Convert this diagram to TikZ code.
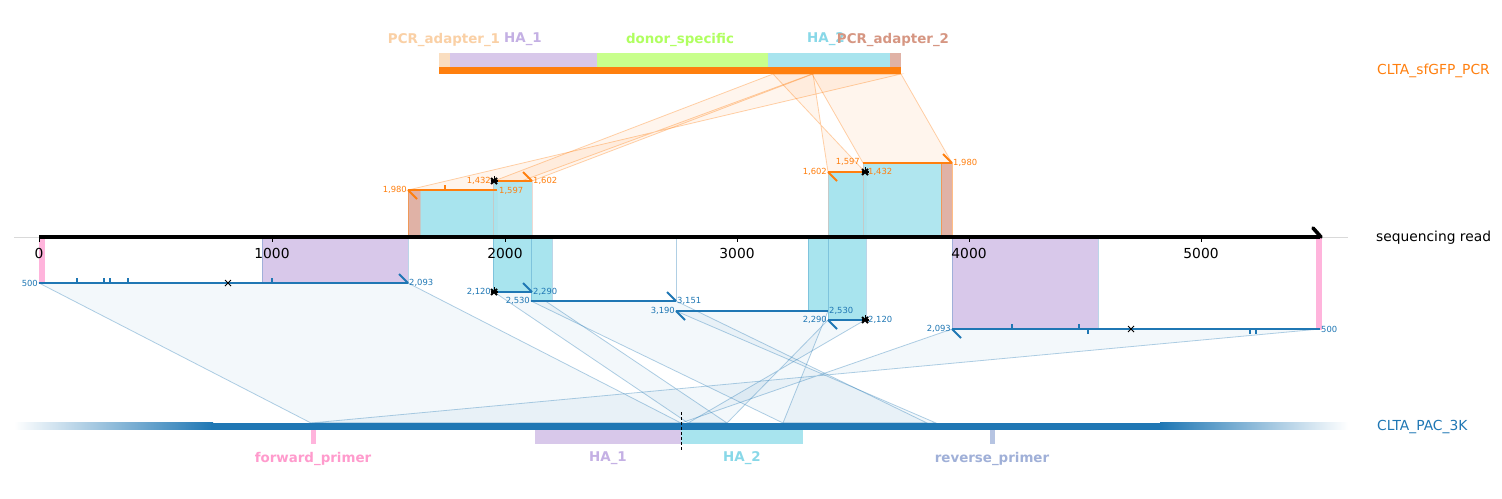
\documentclass[tikz,border=0pt]{standalone}
\usepackage{fontspec}
\setmainfont{DejaVu Sans}
\usetikzlibrary{calc}
\definecolor{cor}{RGB}{255,127,14}
\definecolor{cbl}{RGB}{31,119,180}
\definecolor{cha1}{RGB}{216,200,234}
\definecolor{cha2}{RGB}{168,228,238}
\definecolor{cdon}{RGB}{200,255,140}
\definecolor{cpa1}{RGB}{250,222,192}
\definecolor{cpa2}{RGB}{224,178,166}
\definecolor{cfp}{RGB}{255,180,220}
\definecolor{crp}{RGB}{182,196,226}
\definecolor{lpa1}{RGB}{250,208,165}
\definecolor{lha1}{RGB}{196,176,228}
\definecolor{ldon}{RGB}{176,255,96}
\definecolor{lha2}{RGB}{136,216,232}
\definecolor{lpa2}{RGB}{214,150,130}
\definecolor{lfp}{RGB}{255,155,205}
\definecolor{lrp}{RGB}{160,176,216}
\tikzset{
  flabel/.style={font=\fontsize{13.4}{15}\selectfont\bfseries, inner sep=0pt},
  tlabel/.style={font=\fontsize{13.8}{15}\selectfont, inner sep=0pt, anchor=west},
  axnum/.style={font=\fontsize{13.8}{15}\selectfont, inner sep=0pt},
  olab/.style={font=\fontsize{8.4}{9}\selectfont, text=cor, inner sep=1pt},
  blab/.style={font=\fontsize{8.4}{9}\selectfont, text=cbl, inner sep=1pt},
  oline/.style={draw=cor, line width=2.2pt},
  bline/.style={draw=cbl, line width=2pt},
  otick/.style={draw=cor, line width=1.8pt},
  btick/.style={draw=cbl, line width=1.8pt},
  opoly/.style={fill=cor, fill opacity=0.07, draw=cor, draw opacity=0.35, line width=0.8pt},
  bpoly/.style={fill=cbl, fill opacity=0.05, draw=cbl, draw opacity=0.35, line width=0.8pt},
  featrect/.style={draw opacity=0.5, line width=0.6pt},
  xmark/.style={draw=black, line width=0.9pt},
}
\newcommand{\starmark}[1]{%
  \draw[line width=1.8pt] ($#1+(-3,-3)$) -- ($#1+(3,3)$);
  \draw[line width=1.8pt] ($#1+(-3,3)$) -- ($#1+(3,-3)$);
  \draw[line width=1.2pt] ($#1+(-3.5,0)$) -- ($#1+(3.5,0)$);
  \draw[line width=1pt] #1 -- ($#1+(0,-5)$);}
\newcommand{\xmk}[1]{%
  \draw[xmark] ($#1+(-3,-3)$) -- ($#1+(3,3)$);
  \draw[xmark] ($#1+(-3,3)$) -- ($#1+(3,-3)$);}
\begin{document}
\begin{tikzpicture}[x=1pt,y=-1pt]
\useasboundingbox (0,0) rectangle (1502,498);
\fill[white] (0,0) rectangle (1502,498);

% ---------- coordinates: top reference (CLTA_sfGFP_PCR) ----------
\coordinate (t1432) at (773,74);
\coordinate (t1597) at (812,74);
\coordinate (t1602) at (813,74);
\coordinate (t1980) at (901,74);
% ---------- bottom reference (CLTA_PAC_3K) ----------
\coordinate (b500) at (311,423);
\coordinate (b2093) at (681,423);
\coordinate (b2120) at (688,423);
\coordinate (b2290) at (727,423);
\coordinate (b2530) at (783,423);
\coordinate (b3151) at (927,423);
\coordinate (b3190) at (936,423);
% ---------- alignment end points on the read ----------
\coordinate (a1s) at (408,190); \coordinate (a1e) at (497,190);
\coordinate (a2s) at (494,181); \coordinate (a2e) at (532,181);
\coordinate (a3s) at (828,172); \coordinate (a3e) at (865,172);
\coordinate (a4s) at (863,163); \coordinate (a4e) at (952,163);
\coordinate (c1s) at (39,283);  \coordinate (c1e) at (408,283);
\coordinate (c2s) at (494,292); \coordinate (c2e) at (532,292);
\coordinate (c3s) at (531,301); \coordinate (c3e) at (676,301);
\coordinate (c4s) at (676,311); \coordinate (c4e) at (828,311);
\coordinate (c5s) at (828,320); \coordinate (c5e) at (865,320);
\coordinate (c6s) at (952,329); \coordinate (c6e) at (1320,329);

% ---------- connecting ribbons ----------
\path[opoly] (a1s) -- (a1e) -- (t1597) -- (t1980) -- cycle;
\path[opoly] (a2s) -- (a2e) -- (t1602) -- (t1432) -- cycle;
\path[opoly] (a3s) -- (a3e) -- (t1432) -- (t1602) -- cycle;
\path[opoly] (a4s) -- (a4e) -- (t1980) -- (t1597) -- cycle;
\path[bpoly] (c1s) -- (c1e) -- (b2093) -- (b500) -- cycle;
\path[bpoly] (c2s) -- (c2e) -- (b2290) -- (b2120) -- cycle;
\path[bpoly] (c3s) -- (c3e) -- (b3151) -- (b2530) -- cycle;
\path[bpoly] (c4s) -- (c4e) -- (b2530) -- (b3190) -- cycle;
\path[bpoly] (c5s) -- (c5e) -- (b2120) -- (b2290) -- cycle;
\path[bpoly] (c6s) -- (c6e) -- (b500) -- (b2093) -- cycle;

% ---------- feature rectangles on the read ----------
\path[fill=cpa2, draw=cor, featrect] (408,190) rectangle (420,237);
\path[fill=cha2, draw=cpa2, featrect] (420,190) rectangle (497,237);
\path[fill=cha2, draw=cpa2, featrect, fill opacity=0.9] (493,181) rectangle (532,237);
\path[fill=cha2, draw=cpa2, featrect] (828,172) rectangle (866,237);
\path[fill=cha2, draw=cpa2, featrect, fill opacity=0.9] (863,163) rectangle (941,237);
\path[fill=cpa2, draw=cor, featrect] (941,163) rectangle (952,237);

\path[fill=cfp, draw=cfp] (39,237) rectangle (44,283);
\path[fill=cha1, draw=cbl, draw opacity=0.3, line width=0.6pt] (262,237) rectangle (408,283);
\path[fill=cha2, draw=cbl, featrect, draw opacity=0.3] (493,237) rectangle (532,292);
\path[fill=cha2, draw=cbl, featrect, draw opacity=0.3] (531,237) rectangle (552,301);
\draw[cbl, opacity=0.35, line width=0.8pt] (676,237) -- (676,301);
\path[fill=cha2, draw=cbl, featrect, draw opacity=0.3] (808,237) rectangle (828,311);
\path[fill=cha2, draw=cbl, featrect, draw opacity=0.3] (828,237) rectangle (866,320);
\path[fill=cha1, draw=cbl, draw opacity=0.3, line width=0.6pt] (952,237) rectangle (1098,329);
\path[fill=cfp, draw=cfp] (1316,237) rectangle (1321,329);

% ---------- read axis ----------
\draw[black!15, line width=0.6pt] (14,237) -- (1348,237);
\draw[black, line width=3.6pt] (39,237) -- (1320,237);
\draw[black, line width=3.6pt, line cap=round] (1313,228) -- (1321,237);
\foreach \x/\t in {39/0,272/1000,505/2000,737/3000,969/4000,1201/5000}{
  \draw[black, line width=0.8pt] (\x,237) -- (\x,242);
  \node[axnum] (ax\t) at (\x,253.5) {\t};
}
\node[tlabel, text=black] (readlbl) at (1376,237.5) {sequencing read};

% ---------- top reference ----------
\fill[cpa1] (439,53) rectangle (450,67);
\fill[cha1] (450,53) rectangle (597,67);
\fill[cdon] (597,53) rectangle (768,67);
\fill[cha2] (768,53) rectangle (890,67);
\fill[cpa2] (890,53) rectangle (901,67);
\fill[cor] (439,67) rectangle (901,74);
\node[flabel, text=lpa1] (tf1) at (444,39.5) {PCR\_adapter\_1};
\node[flabel, text=lha1] (tf2) at (523,39.5) {HA\_1};
\node[flabel, text=ldon] (tf3) at (680,39.5) {donor\_specific};
\node[flabel, text=lha2] (tf4) at (826,39.5) {HA\_2};
\node[flabel, text=lpa2] (tf5) at (893,39.5) {PCR\_adapter\_2};
\node[tlabel, text=cor] (toplbl) at (1377,70.5) {CLTA\_sfGFP\_PCR};

% ---------- bottom reference ----------
\shade[left color=white, right color=cbl] (14,422.5) rectangle (213,429.5);
\fill[cbl] (211,422.5) rectangle (1162,429.5);
\shade[left color=cbl, right color=white] (1160,422.5) rectangle (1348,429.5);
\fill[cfp] (311,429.5) rectangle (316,444);
\fill[cha1] (535,429.5) rectangle (681,444);
\fill[cha2] (681,429.5) rectangle (803,444);
\fill[crp] (990,429.5) rectangle (995,444);
\draw[black, line width=0.9pt, dash pattern=on 3pt off 2pt] (681,412) -- (681,450);
\node[flabel, text=lfp] (bf1) at (313,458.5) {forward\_primer};
\node[flabel, text=lha1] (bf2) at (608,458.5) {HA\_1};
\node[flabel, text=lha2] (bf3) at (742,458.5) {HA\_2};
\node[flabel, text=lrp] (bf4) at (992,458.5) {reverse\_primer};
\node[tlabel, text=cbl] (botlbl) at (1377,426.5) {CLTA\_PAC\_3K};

% ---------- orange alignments ----------
\draw[oline] (a1s) -- (a1e);
\draw[otick] (a1s) -- ++(9,9);
\draw[otick] (445,190) -- (445,185);
\node[olab, anchor=east] (la1s) at (a1s) {1,980};
\node[olab, anchor=west] (la1e) at ($(a1e)+(1,1)$) {1,597};

\draw[oline] (a2s) -- (a2e);
\draw[otick] (a2e) -- ++(-9,-9);
\node[olab, anchor=east] (la2s) at ($(a2s)+(-2,0)$) {1,432};
\node[olab, anchor=west] (la2e) at (a2e) {1,602};

\draw[oline] (a3s) -- (a3e);
\draw[otick] (a3s) -- ++(9,9);
\node[olab, anchor=east] (la3s) at (a3s) {1,602};
\node[olab, anchor=west] (la3e) at ($(a3e)+(2,0)$) {1,432};

\draw[oline] (a4s) -- (a4e);
\draw[otick] (a4e) -- ++(-9,-9);
\node[olab, anchor=east] (la4s) at ($(a4s)+(-2,-1)$) {1,597};
\node[olab, anchor=west] (la4e) at (a4e) {1,980};

% ---------- blue alignments ----------
\draw[bline] (c1s) -- (c1e);
\draw[btick] (c1e) -- ++(-9,-9);
\foreach \x in {77,104,110,128,272}{\draw[btick, line width=1.4pt] (\x,283) -- (\x,278);}
\node[blab, anchor=east] (lc1s) at (c1s) {500};
\node[blab, anchor=west] (lc1e) at (c1e) {2,093};

\draw[bline] (c2s) -- (c2e);
\draw[btick] (c2e) -- ++(-9,-9);
\node[blab, anchor=east] (lc2s) at ($(c2s)+(-2,0)$) {2,120};
\node[blab, anchor=west] (lc2e) at (c2e) {2,290};

\draw[bline] (c3s) -- (c3e);
\draw[btick] (c3e) -- ++(-9,-9);
\node[blab, anchor=east] (lc3s) at (c3s) {2,530};
\node[blab, anchor=west] (lc3e) at (c3e) {3,151};

\draw[bline] (c4s) -- (c4e);
\draw[btick] (c4s) -- ++(9,9);
\node[blab, anchor=east] (lc4s) at (c4s) {3,190};
\node[blab, anchor=west] (lc4e) at (c4e) {2,530};

\draw[bline] (c5s) -- (c5e);
\draw[btick] (c5s) -- ++(9,9);
\node[blab, anchor=east] (lc5s) at (c5s) {2,290};
\node[blab, anchor=west] (lc5e) at ($(c5e)+(2,0)$) {2,120};

\draw[bline] (c6s) -- (c6e);
\draw[btick] (c6s) -- ++(9,9);
\foreach \x in {1012,1079}{\draw[btick, line width=1.4pt] (\x,329) -- (\x,324);}
\foreach \x in {1088,1250,1256}{\draw[btick, line width=1.4pt] (\x,329) -- (\x,334);}
\node[blab, anchor=east] (lc6s) at (c6s) {2,093};
\node[blab, anchor=west] (lc6e) at (c6e) {500};

% ---------- markers ----------
\starmark{(a2s)}
\starmark{(a3e)}
\starmark{(c2s)}
\starmark{(c5e)}
\xmk{(228,283)}
\xmk{(1131,329)}
\end{tikzpicture}
\end{document}
